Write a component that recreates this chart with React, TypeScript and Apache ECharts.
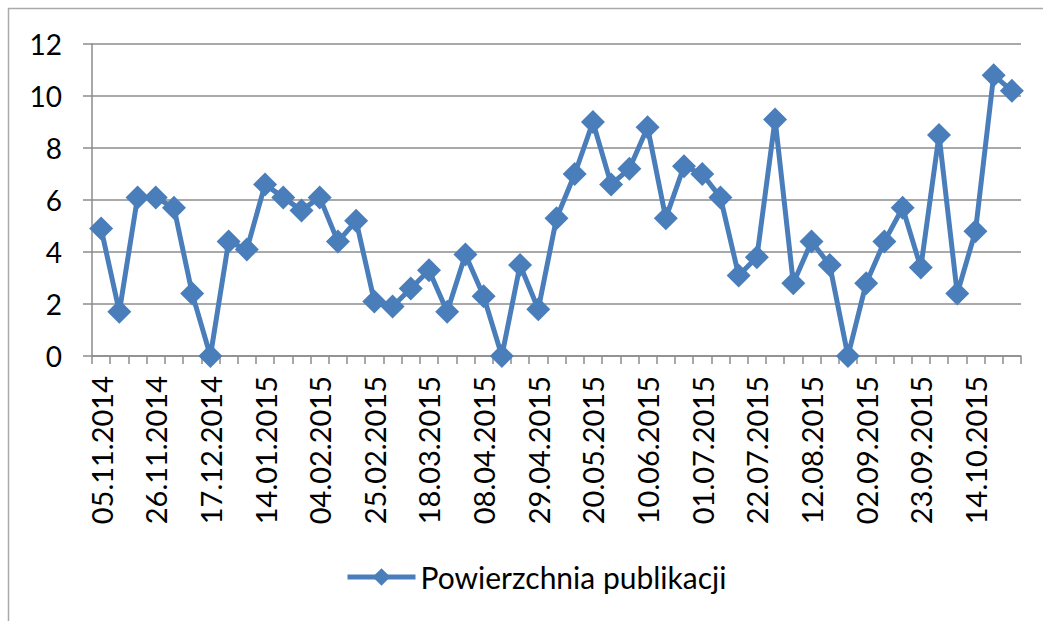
import React, { useEffect, useRef } from "react";
import * as echarts from "echarts";

const categories: string[] = [
  "05.11.2014", "12.11.2014", "19.11.2014", "26.11.2014", "03.12.2014", "10.12.2014",
  "17.12.2014", "24.12.2014", "07.01.2015", "14.01.2015", "21.01.2015", "28.01.2015",
  "04.02.2015", "11.02.2015", "18.02.2015", "25.02.2015", "04.03.2015", "11.03.2015",
  "18.03.2015", "25.03.2015", "01.04.2015", "08.04.2015", "15.04.2015", "22.04.2015",
  "29.04.2015", "06.05.2015", "13.05.2015", "20.05.2015", "27.05.2015", "03.06.2015",
  "10.06.2015", "17.06.2015", "24.06.2015", "01.07.2015", "08.07.2015", "15.07.2015",
  "22.07.2015", "29.07.2015", "05.08.2015", "12.08.2015", "19.08.2015", "26.08.2015",
  "02.09.2015", "09.09.2015", "16.09.2015", "23.09.2015", "30.09.2015", "07.10.2015",
  "14.10.2015", "21.10.2015", "28.10.2015",
];

const powierzchnia: number[] = [
  4.9, 1.7, 6.1, 6.1, 5.7, 2.4,
  0, 4.4, 4.1, 6.6, 6.1, 5.6,
  6.1, 4.4, 5.2, 2.1, 1.9, 2.6,
  3.3, 1.7, 3.9, 2.3, 0, 3.5,
  1.8, 5.3, 7.0, 9.0, 6.6, 7.2,
  8.8, 5.3, 7.3, 7.0, 6.1, 3.1,
  3.8, 9.1, 2.8, 4.4, 3.5, 0,
  2.8, 4.4, 5.7, 3.4, 8.5, 2.4,
  4.8, 10.8, 10.2,
];

const seriesName = "Powierzchnia publikacji";
const FONT = "Lato, 'Open Sans', sans-serif";
const BLUE = "#4A7EBB";
const GRAY = "#8c8c8c";

export default function App() {
  const ref = useRef<HTMLDivElement>(null);
  useEffect(() => {
    if (!ref.current) return;
    const chart = echarts.init(ref.current, undefined, { renderer: "svg" });
    chart.setOption({
      animation: false,
      backgroundColor: "#ffffff",
      textStyle: { fontFamily: FONT },
      grid: { left: 92, right: 22, top: 44, bottom: 265, containLabel: false },
      xAxis: {
        type: "category",
        data: categories,
        boundaryGap: true,
        axisLine: { show: true, lineStyle: { color: GRAY, width: 1.5 } },
        axisTick: { show: true, interval: 0, length: 8, lineStyle: { color: GRAY, width: 1.5 } },
        axisLabel: {
          interval: 2,
          rotate: 90,
          margin: 20,
          color: "#000",
          fontSize: 29,
          fontFamily: FONT,
        },
        splitLine: { show: false },
      },
      yAxis: {
        type: "value",
        min: 0,
        max: 12,
        interval: 2,
        axisLine: { show: true, lineStyle: { color: GRAY, width: 1.5 } },
        axisTick: { show: true, length: 9, lineStyle: { color: GRAY, width: 1.5 } },
        axisLabel: { margin: 30, color: "#000", fontSize: 28, fontFamily: FONT },
        splitLine: { show: true, lineStyle: { color: GRAY, width: 1.5 } },
      },
      legend: {
        data: [seriesName],
        left: 345,
        top: 562,
        padding: 0,
        itemWidth: 68,
        itemHeight: 22,
        lineStyle: { width: 5, color: BLUE },
        itemStyle: { color: BLUE },
        textStyle: { fontSize: 30, color: "#000", fontFamily: FONT, lineHeight: 30 },
      },
      series: [
        {
          name: seriesName,
          type: "line",
          data: powierzchnia,
          symbol: "diamond",
          symbolSize: 24,
          showSymbol: true,
          showAllSymbol: true,
          itemStyle: { color: BLUE },
          lineStyle: { color: BLUE, width: 5 },
        },
      ],
      graphic: [
        {
          type: "line",
          shape: { x1: 8, y1: 8.5, x2: 1043, y2: 8.5 },
          style: { stroke: "#aaaaaa", lineWidth: 1.5 },
          silent: true,
        },
        {
          type: "line",
          shape: { x1: 8.5, y1: 8, x2: 8.5, y2: 621 },
          style: { stroke: "#aaaaaa", lineWidth: 1.5 },
          silent: true,
        },
      ],
    });
    return () => chart.dispose();
  }, []);
  return (
    <div
      ref={ref}
      style={{ position: "absolute", left: 0, top: 0, width: 1043, height: 621 }}
    />
  );
}
